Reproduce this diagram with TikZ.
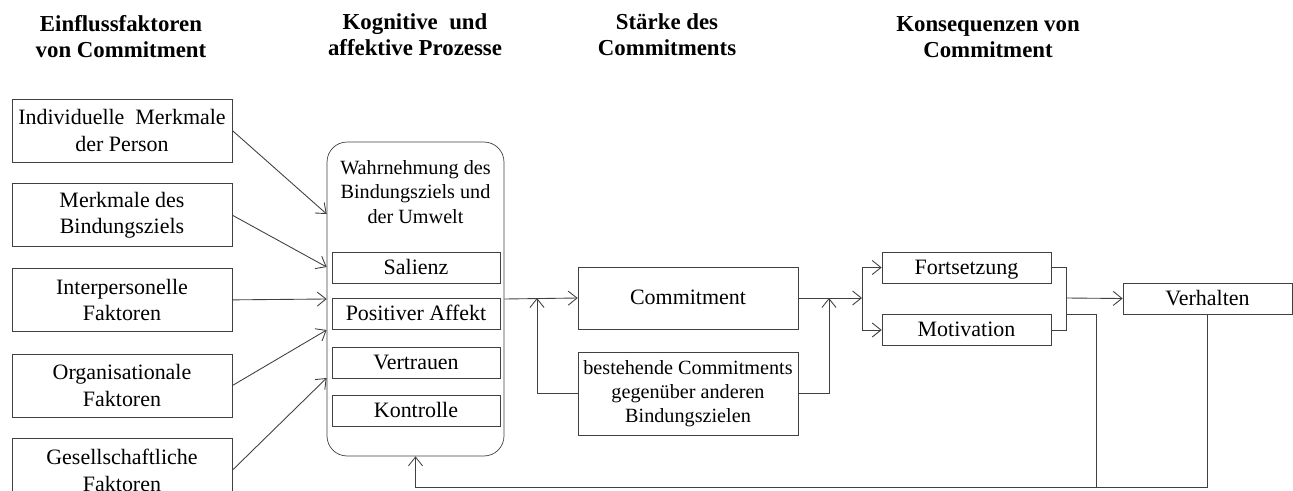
\documentclass[tikz,border=0pt]{standalone}
\usepackage{fontspec}
\setmainfont{Liberation Serif}
\usetikzlibrary{calc}
\usetikzlibrary{positioning}
\usetikzlibrary{arrows.meta}

\begin{document}
\begin{tikzpicture}[x=0.02cm, y=-0.02cm, font=\fontsize{12.5}{14}\selectfont,
    factor/.style={rectangle, minimum width=4.4cm, minimum height=1.26cm, inner sep=1pt, align=center, draw=black!75, font=\fontsize{12.5}{15}\selectfont},
    facet/.style={rectangle, minimum width=3.36cm, minimum height=0.62cm, inner sep=1pt, text height=9.5pt, text depth=2pt, draw=black!75},
    result/.style={rectangle, minimum width=3.38cm, minimum height=0.62cm, inner sep=1pt, text height=9.5pt, text depth=2pt, draw=black!75},
    heading/.style={align=center, font=\fontsize{13}{14.8}\selectfont\bfseries},
    link/.style={draw=black!75, line width=0.5pt},
    arr/.style={link, -{Straight Barb[length=5pt, width=8pt]}}]
    \useasboundingbox (0,0) rectangle (1293,490);

    \node [heading] (h1) at (121,37) {Einflussfaktoren\\von Commitment};
    \node [heading] (h2) at (415,35) {Kognitive\ \ und\\affektive Prozesse};
    \node [heading] (h3) at (667,35) {Stärke des\\Commitments};
    \node [heading] (h4) at (988,37) {Konsequenzen von\\Commitment};

    \node [factor] (indiv) at (122,130.5) {Individuelle\ \ Merkmale\\der Person};
    \node [factor, below=0.42cm of indiv] (ziel) {Merkmale des\\Bindungsziels};
    \node [factor, below=0.42cm of ziel] (inter) {Interpersonelle\\Faktoren};
    \node [factor, below=0.44cm of inter] (orga) {Organisationale\\Faktoren};
    \node [factor, below=0.42cm of orga] (gesell) {Gesellschaftliche\\Faktoren};

    \node [rectangle, rounded corners=0.4cm, minimum width=3.54cm, minimum height=6.28cm, draw=black!75] (proc) at (415.5,299) {};
    \node [align=center, font=\fontsize{11.5}{13.8}\selectfont] (wahr) at (415.5,192) {Wahrnehmung des\\Bindungsziels und\\der Umwelt};
    \node [facet] (sal) at (416,267.5) {Salienz};
    \node [facet, below=0.3cm of sal] (aff) {Positiver Affekt};
    \node [facet, below=0.34cm of aff] (vert) {Vertrauen};
    \node [facet, below=0.32cm of vert] (kontr) {Kontrolle};

    \node [rectangle, minimum width=4.4cm, minimum height=1.24cm, text height=9.5pt, text depth=2pt, draw=black!75] (comm) at (688,298) {Commitment};
    \node [rectangle, minimum width=4.4cm, minimum height=1.66cm, inner sep=1pt, align=center, draw=black!75, font=\fontsize{11.5}{13.8}\selectfont] (best) at (688,393.5) {bestehende Commitments\\gegenüber anderen\\Bindungszielen};

    \node [result] (fort) at (966.5,267.5) {Fortsetzung};
    \node [result] (moti) at (966.5,330) {Motivation};
    \node [result] (verh) at (1207.5,298.5) {Verhalten};

    \coordinate (j1) at (537,298);
    \coordinate (j2) at (829,298);
    \coordinate (br) at (862,298);
    \coordinate (j3) at (1066,298);
    \coordinate (fbm) at (1096,487);
    \coordinate (fbk) at (415.5,487);

    \draw [arr] (indiv.east) -- ([yshift=1.7cm]proc.west);
    \draw [arr] (ziel.east) -- ([yshift=0.64cm]proc.west);
    \draw [arr] (inter.east) -- (proc.west);
    \draw [arr] (orga.east) -- ([yshift=-0.62cm]proc.west);
    \draw [arr] (gesell.east) -- ([yshift=-1.58cm]proc.west);

    \draw [arr] (proc.east) -- (comm.west);
    \draw [arr] (best.west) -| (j1);
    \draw [arr] (best.east) -| (j2);
    \draw [arr] (comm.east) -- (br);
    \draw [arr] (br) |- (fort.west);
    \draw [arr] (br) |- (moti.west);
    \draw [link] (fort.east) -| (j3) |- (moti.east);
    \draw [arr] (j3) -- (verh.west);
    \draw [link] ([yshift=-0.32cm]j3) -| (fbm);
    \draw [arr] (verh.south) |- (fbk) -- (proc.south);
\end{tikzpicture}
\end{document}
